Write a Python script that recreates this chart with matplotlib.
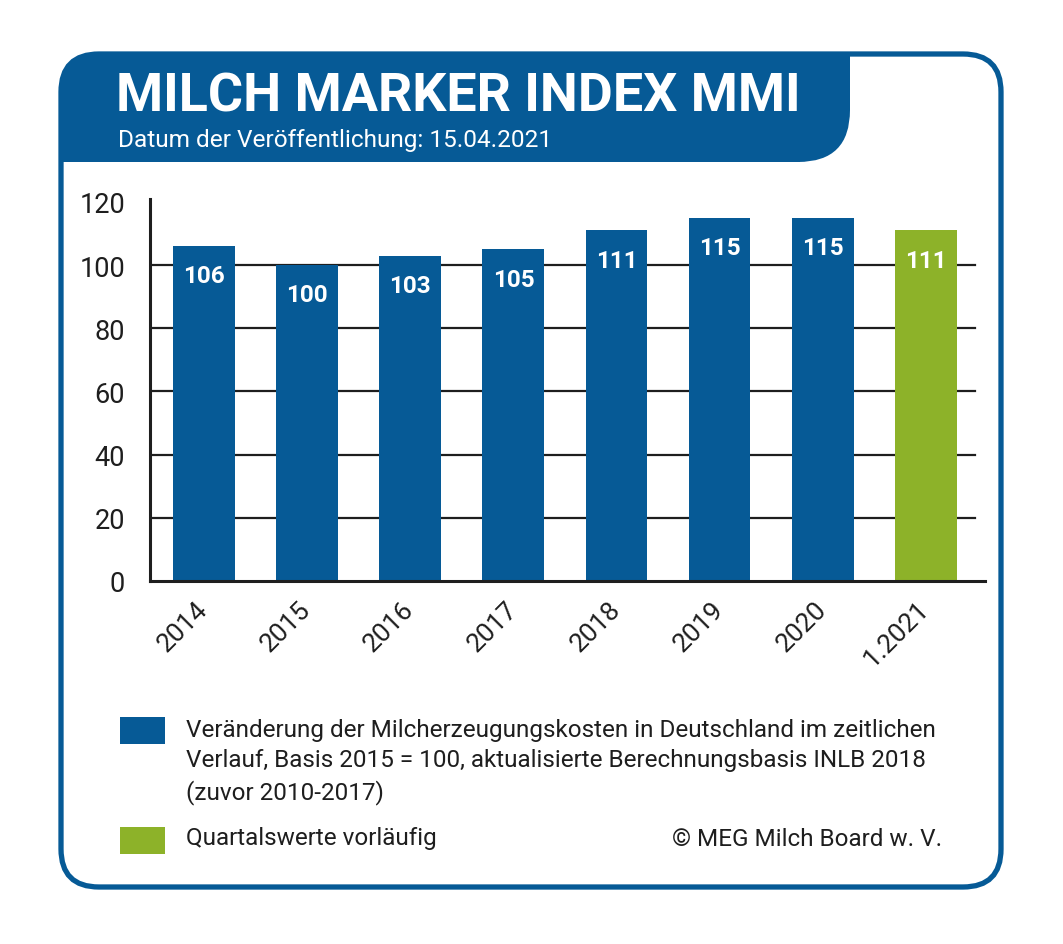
import matplotlib
matplotlib.use("Agg")
import matplotlib.pyplot as plt
from matplotlib.patches import FancyBboxPatch, Rectangle

plt.rcParams['font.family'] = ['Roboto', 'DejaVu Sans']

# data
years = ['2014', '2015', '2016', '2017', '2018', '2019', '2020', '1.2021']
values = [106, 100, 103, 105, 111, 115, 115, 111]
preliminary = [False, False, False, False, False, False, False, True]
yticks = [0, 20, 40, 60, 80, 100, 120]
gridlines = [20, 40, 60, 80, 100]

title = 'MILCH MARKER INDEX MMI'
subtitle = 'Datum der Veröffentlichung: 15.04.2021'
legend_blue = ('Veränderung der Milcherzeugungskosten in Deutschland im zeitlichen\n'
               'Verlauf, Basis 2015 = 100, aktualisierte Berechnungsbasis INLB 2018\n'
               '(zuvor 2010-2017)')
legend_green = 'Quartalswerte vorläufig'
credit = '© MEG Milch Board w. V.'

BLUE = '#065a96'
GREEN = '#8db229'
INK = '#1e1e1e'

W, H = 1063, 945
fig = plt.figure(figsize=(W / 100, H / 100), dpi=100)

# background / frame in pixel coords
bg = fig.add_axes([0, 0, 1, 1])
bg.set_xlim(0, W)
bg.set_ylim(H, 0)
bg.axis('off')

frame = FancyBboxPatch((61, 55), 940, 833,
                       boxstyle='round,pad=0,rounding_size=38',
                       facecolor='white', edgecolor=BLUE, linewidth=3.8, zorder=1)
bg.add_patch(frame)

# header band, clipped by the frame
clip = FancyBboxPatch((61, 55), 940, 833, boxstyle='round,pad=0,rounding_size=38',
                      transform=bg.transData, facecolor='none', edgecolor='none')
bg.add_patch(clip)
hdr = [FancyBboxPatch((40, 30), 810, 133, boxstyle='round,pad=0,rounding_size=52'),
       Rectangle((40, 30), 760, 133),
       Rectangle((40, 30), 810, 80)]
for p in hdr:
    p.set_facecolor(BLUE)
    p.set_edgecolor('none')
    p.set_zorder(2)
    bg.add_patch(p)
    p.set_clip_path(clip)

bg.text(116, 97, title, color='white', fontsize=38.8, fontweight='bold',
        va='center', ha='left', zorder=3)
bg.text(118, 141, subtitle, color='white', fontsize=17.6,
        va='center', ha='left', zorder=3)

# legend
bg.add_patch(Rectangle((120, 718), 45, 27, facecolor=BLUE, edgecolor='none', zorder=3))
bg.add_patch(Rectangle((120, 828), 45, 27, facecolor=GREEN, edgecolor='none', zorder=3))
bg.text(186, 762, legend_blue, fontsize=17.5, color=INK, va='center', ha='left',
        linespacing=1.38, zorder=3)
bg.text(186, 839, legend_green, fontsize=17.5, color=INK, va='center', ha='left', zorder=3)
bg.text(942, 839, credit, fontsize=17.5, color=INK, va='center', ha='right', zorder=3)

# chart
ax = fig.add_axes([150 / W, (H - 582) / H, (985 - 150) / W, (582 - 200) / H])
ax.patch.set_alpha(0)
x = range(len(years))
colors = [GREEN if p else BLUE for p in preliminary]
for g in gridlines:
    ax.axhline(g, xmin=0, xmax=(975 - 150) / (985 - 150), color=INK,
               linewidth=1.6, zorder=0)
bars = ax.bar(x, values, width=0.6, color=colors, zorder=2)
ax.set_xlim(-0.525, len(years) - 1 + 0.575)
ax.set_ylim(0, 120.9)
ax.set_yticks(yticks)
for s in ['top', 'right']:
    ax.spines[s].set_visible(False)
for s in ['left', 'bottom']:
    ax.spines[s].set_linewidth(2.2)
    ax.spines[s].set_color(INK)
ax.tick_params(axis='y', length=0, pad=18, labelsize=19.5, labelcolor=INK)
ax.tick_params(axis='x', length=0, pad=17, labelsize=19, labelcolor=INK)
ax.set_xticks(list(x))
ax.set_xticklabels(years, rotation=45, ha='right', va='center', rotation_mode='anchor')

for b, v in zip(bars, values):
    ax.text(b.get_x() + b.get_width() / 2, v - 5.8, str(v), color='white',
            fontsize=17.5, fontweight='bold', ha='center', va='top', zorder=3)

fig.savefig('out.png', dpi=100)
